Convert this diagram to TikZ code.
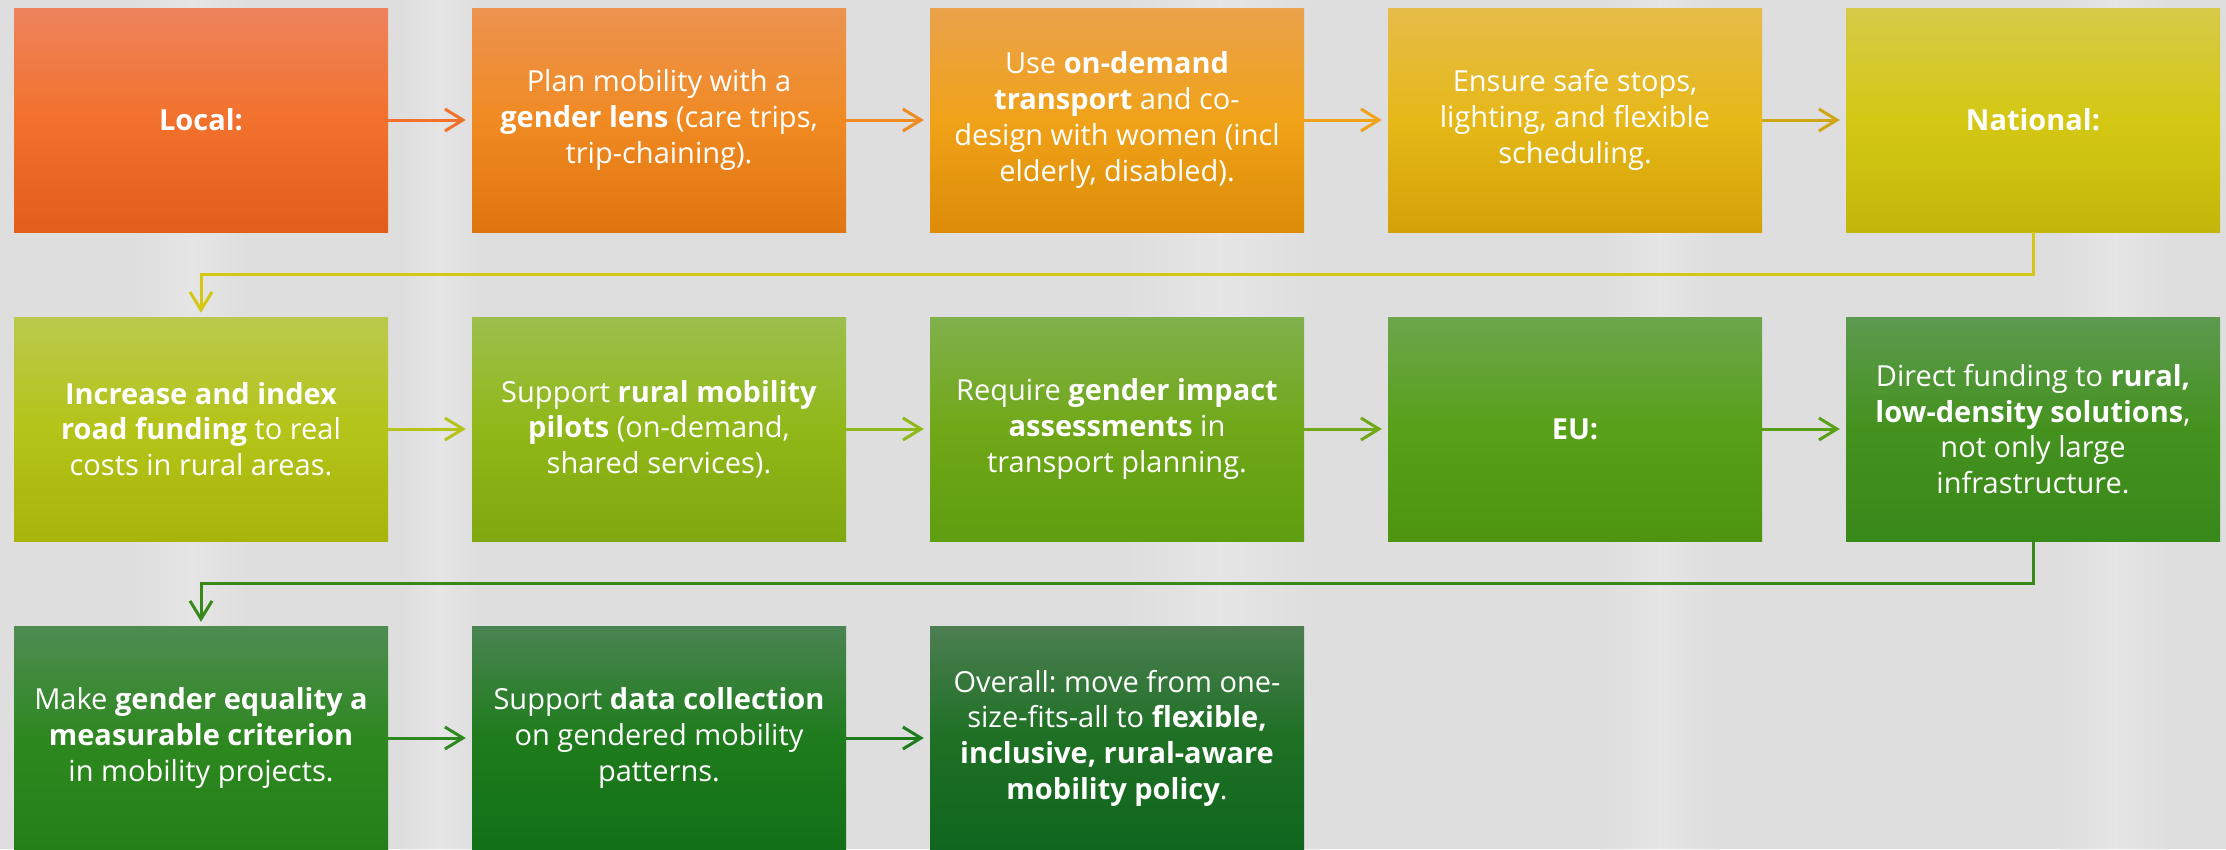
\documentclass[tikz,border=0pt]{standalone}
\usepackage{fontspec}
\setmainfont{Open Sans}
\frenchspacing
\usetikzlibrary{arrows.meta,calc}

% box colours: top / middle / bottom of each vertical gradient
\definecolor{aT}{HTML}{EE835C}\definecolor{aM}{HTML}{F2712C}\definecolor{aB}{HTML}{E25D1A}
\definecolor{bT}{HTML}{EC9350}\definecolor{bM}{HTML}{F08A22}\definecolor{bB}{HTML}{E07510}
\definecolor{cT}{HTML}{EAA24C}\definecolor{cM}{HTML}{F0A218}\definecolor{cB}{HTML}{DC8C08}
\definecolor{dT}{HTML}{E6BC4A}\definecolor{dM}{HTML}{E6B818}\definecolor{dB}{HTML}{D4A208}
\definecolor{eT}{HTML}{D6CA48}\definecolor{eM}{HTML}{D4C814}\definecolor{eB}{HTML}{C4B60A}
\definecolor{fT}{HTML}{BBC94C}\definecolor{fM}{HTML}{B4C418}\definecolor{fB}{HTML}{A8B40A}
\definecolor{gT}{HTML}{9CBF4C}\definecolor{gM}{HTML}{90B818}\definecolor{gB}{HTML}{80A810}
\definecolor{hT}{HTML}{80B04C}\definecolor{hM}{HTML}{70A818}\definecolor{hB}{HTML}{5E9E10}
\definecolor{iT}{HTML}{6CA64C}\definecolor{iM}{HTML}{58A018}\definecolor{iB}{HTML}{4E9410}
\definecolor{jT}{HTML}{5C9A50}\definecolor{jM}{HTML}{44921E}\definecolor{jB}{HTML}{38881A}
\definecolor{kT}{HTML}{4E8C52}\definecolor{kM}{HTML}{2E8820}\definecolor{kB}{HTML}{238018}
\definecolor{lT}{HTML}{4A8452}\definecolor{lM}{HTML}{1E7C1C}\definecolor{lB}{HTML}{127018}
\definecolor{mT}{HTML}{4C7E52}\definecolor{mM}{HTML}{1E7024}\definecolor{mB}{HTML}{10661E}
\definecolor{bgGray}{HTML}{DEDEDE}

\tikzset{
  stepbox/.style n args={3}{rectangle, inner sep=0pt,
    minimum width=374pt, minimum height=224pt,
    top color=#1, bottom color=#3, middle color=#2,
    text=white, align=center,
    font=\fontsize{29}{35.7}\selectfont},
  flow/.style={line width=3pt, draw=#1,
    -{Straight Barb[length=18pt,width=22pt,line width=3pt]},
    shorten >=6pt},
}

\begin{document}
\begin{tikzpicture}[x=1pt,y=-1pt]
  \useasboundingbox (0,0) rectangle (2226,849);
  \clip (0,0) rectangle (2226,849);

  % backdrop with faint light streaks
  \fill[bgGray] (0,0) rectangle (2226,849);
  \foreach \xa/\w in {130/120, 400/80, 1120/200, 1600/120, 2060/110}{
    \shade[left color=bgGray, right color=bgGray, middle color=white!70!bgGray, opacity=0.35]
      (\xa,0) rectangle ++(\w,849);
  }

  % first row
  \node[stepbox={aT}{aM}{aB}] (n1) at (201,120) {\textbf{Local:}};
  \node[stepbox={bT}{bM}{bB}] (n2) at (659,120)
    {Plan mobility with a\\\textbf{gender lens} (care trips,\\trip-chaining).};
  \node[stepbox={cT}{cM}{cB}] (n3) at (1117,120)
    {Use \textbf{on-demand}\\\textbf{transport} and co-\\design with women (incl\\elderly, disabled).};
  \node[stepbox={dT}{dM}{dB}] (n4) at (1575,120)
    {Ensure safe stops,\\lighting, and flexible\\scheduling.};
  \node[stepbox={eT}{eM}{eB}] (n5) at (2033,120) {\textbf{National:}};

  % second row
  \node[stepbox={fT}{fM}{fB}] (n6) at (201,429)
    {\textbf{Increase and index}\\\textbf{road funding} to real\\costs in rural areas.};
  \node[stepbox={gT}{gM}{gB}] (n7) at (659,429)
    {Support \textbf{rural mobility}\\\textbf{pilots} (on-demand,\\shared services).};
  \node[stepbox={hT}{hM}{hB}] (n8) at (1117,429)
    {Require \textbf{gender impact}\\\textbf{assessments} in\\transport planning.};
  \node[stepbox={iT}{iM}{iB}] (n9) at (1575,429) {\textbf{EU:}};
  \node[stepbox={jT}{jM}{jB}] (n10) at (2033,429)
    {Direct funding to \textbf{rural,}\\\textbf{low-density solutions},\\not only large\\infrastructure.};

  % third row
  \node[stepbox={kT}{kM}{kB}] (n11) at (201,738)
    {Make \textbf{gender equality a}\\\textbf{measurable criterion}\\in mobility projects.};
  \node[stepbox={lT}{lM}{lB}] (n12) at (659,738)
    {Support \textbf{data collection}\\on gendered mobility\\patterns.};
  \node[stepbox={mT}{mM}{mB}] (n13) at (1117,738)
    {Overall: move from one-\\size-fits-all to \textbf{flexible,}\\\textbf{inclusive, rural-aware}\\\textbf{mobility policy}.};

  % connectors within rows
  \draw[flow=aM] (n1) -- (n2);
  \draw[flow=bM] (n2) -- (n3);
  \draw[flow=cM] (n3) -- (n4);
  \draw[flow=dM!90!black] (n4) -- (n5);
  \draw[flow=fM] (n6) -- (n7);
  \draw[flow=gM] (n7) -- (n8);
  \draw[flow=hM] (n8) -- (n9);
  \draw[flow=iM] (n9) -- (n10);
  \draw[flow=kM] (n11) -- (n12);
  \draw[flow=lM] (n12) -- (n13);

  % wrap-around connectors between rows
  \coordinate (w1) at ($(n5.south)!0.5!(n6.north)$);
  \coordinate (w2) at ($(n10.south)!0.5!(n11.north)$);
  \draw[flow=eM, shorten >=4pt] (n5.south) |- (w1) -| (n6.north);
  \draw[flow=jB, shorten >=4pt] (n10.south) |- (w2) -| (n11.north);
\end{tikzpicture}
\end{document}
